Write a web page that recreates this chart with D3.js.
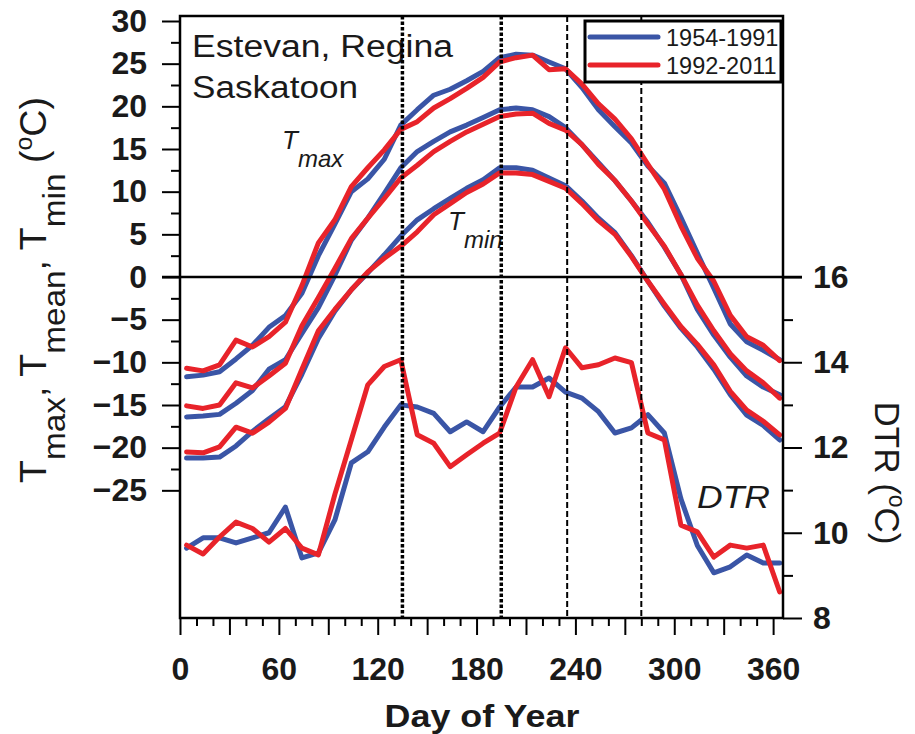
<!DOCTYPE html>
<html><head><meta charset="utf-8">
<script src="https://cdn.jsdelivr.net/npm/d3@7"></script>
<style>body{margin:0;background:#fff;} svg{display:block;}</style>
</head><body>
<svg id="c" width="915" height="734"></svg>
<script>
// ---- data ----
const days = [4,14,24,34,44,54,64,74,84,94,104,114,124,134,144,154,164,174,184,194,204,214,224,234,244,254,264,274,284,294,304,314,324,334,344,354,364];
const tmaxOld = [-11.7,-11.5,-11.1,-9.6,-8.0,-5.9,-4.5,-1.9,2.5,6.2,10.0,11.5,13.8,17.8,19.6,21.3,22.0,23.0,24.1,25.7,26.1,26.0,25.2,24.4,22.2,19.6,17.6,15.7,13.0,11.0,7.0,2.8,-1.3,-5.5,-7.6,-8.6,-9.7];
const tmaxNew = [-10.7,-11.0,-10.3,-7.4,-8.2,-7.0,-5.3,-1.0,4.0,6.7,10.6,12.8,14.9,17.3,18.2,19.8,20.9,22.1,23.4,25.2,25.7,26.0,24.3,24.4,22.6,20.3,18.5,16.2,13.2,10.3,6.0,2.2,-0.5,-4.5,-7.0,-8.0,-9.8];
const tmeanOld = [-16.4,-16.3,-16.1,-14.8,-13.3,-10.8,-9.7,-6.6,-3.6,0.2,4.3,6.9,9.8,12.8,14.7,15.9,17.0,17.8,18.7,19.6,19.8,19.6,18.8,17.5,15.5,13.4,11.3,8.9,6.4,3.5,0.3,-3.8,-6.8,-9.4,-11.6,-12.9,-13.8];
const tmeanNew = [-15.1,-15.4,-15.0,-12.4,-13.0,-11.6,-10.1,-5.7,-2.4,1.0,4.5,6.9,9.2,11.6,13.1,14.7,15.9,17.0,17.9,18.8,19.1,19.2,18.0,17.2,15.5,13.2,11.3,8.9,6.2,3.6,0.3,-3.3,-6.3,-9.0,-11.0,-12.4,-14.2];
const tminOld = [-21.2,-21.2,-21.1,-19.8,-18.1,-16.6,-15.2,-11.4,-7.2,-4.0,-1.5,0.5,2.6,4.8,6.7,8.0,9.2,10.4,11.4,12.8,12.8,12.5,11.6,10.7,8.9,6.9,5.2,2.5,-0.5,-3.4,-6.0,-8.2,-10.8,-13.8,-16.2,-17.4,-19.1];
const tminNew = [-20.5,-20.6,-19.9,-17.6,-18.3,-17.0,-15.4,-10.8,-6.3,-3.8,-1.5,0.6,2.2,3.6,5.3,7.3,8.6,9.9,10.9,12.2,12.2,12.0,11.2,10.4,8.6,6.6,5.0,2.4,-0.5,-3.2,-5.8,-7.9,-10.3,-13.4,-15.6,-16.9,-18.5];
const dtrOld = [9.64,9.88,9.88,9.76,9.88,10.0,10.6,9.41,9.53,10.3,11.64,11.9,12.48,13.0,12.95,12.8,12.37,12.6,12.37,12.95,13.42,13.42,13.63,13.3,13.16,12.84,12.34,12.46,12.77,12.34,10.8,9.7,9.06,9.2,9.48,9.29,9.29];
const dtrNew = [9.71,9.5,9.9,10.25,10.1,9.78,10.1,9.64,9.48,10.9,12.18,13.47,13.9,14.06,12.3,12.1,11.55,11.83,12.1,12.34,13.42,14.06,13.19,14.34,13.87,13.94,14.1,13.99,12.34,12.18,10.18,10.02,9.43,9.71,9.64,9.71,8.61];
const seriesNames = ["1954-1991","1992-2011"];
const markerDays = [135,195,235,280];
const xTickLabels = [0,60,120,180,240,300,360];
const leftTickLabels = [-25,-20,-15,-10,-5,0,5,10,15,20,25,30];
const rightTickLabels = [8,10,12,14,16];

// ---- layout ----
const svg = d3.select("#c");
const FONT = "'Liberation Sans', Arial, Helvetica, sans-serif";
const L = 180, R = 783, T = 16, B = 618;
const BLUE = "#3a55a6", RED = "#e8232a";
const x = d3.scaleLinear().domain([0,366]).range([L,R]);
const yL = d3.scaleLinear().domain([0,30]).range([277,21]);
const yR = d3.scaleLinear().domain([8,16]).range([B,277]);

// annotation texts
const ann = svg.append("g").attr("font-family", FONT).attr("fill","#1a1a1a");
ann.append("text").attr("x",192).attr("y",57).attr("font-size",31)
  .attr("textLength",261).attr("lengthAdjust","spacingAndGlyphs").text("Estevan, Regina");
ann.append("text").attr("x",192).attr("y",98).attr("font-size",31)
  .attr("textLength",166).attr("lengthAdjust","spacingAndGlyphs").text("Saskatoon");
function subLabel(xp, yp, main, sub){
  const t = ann.append("text").attr("x",xp).attr("y",yp).attr("font-style","italic").attr("font-size",26);
  t.append("tspan").text(main);
  t.append("tspan").attr("dy",18).attr("font-size",24).text(sub);
}
subLabel(282,149,"T","max");
subLabel(448,230,"T","min");
ann.append("text").attr("x",697).attr("y",508).attr("font-size",32).attr("font-style","italic")
  .attr("textLength",73).attr("lengthAdjust","spacingAndGlyphs").text("DTR");

// curves
const lineL = d3.line().x((d,i)=>x(days[i])).y(d=>yL(d));
const lineR = d3.line().x((d,i)=>x(days[i])).y(d=>yR(d));
const curves = svg.append("g").attr("fill","none").attr("stroke-width",5).attr("stroke-linejoin","round").attr("stroke-linecap","round");
[[tmaxOld,BLUE],[tmeanOld,BLUE],[tminOld,BLUE]].forEach(([s,c])=>curves.append("path").attr("d",lineL(s)).attr("stroke",c));
curves.append("path").attr("d",lineR(dtrOld)).attr("stroke",BLUE);
[[tmaxNew,RED],[tmeanNew,RED],[tminNew,RED]].forEach(([s,c])=>curves.append("path").attr("d",lineL(s)).attr("stroke",c));
curves.append("path").attr("d",lineR(dtrNew)).attr("stroke",RED);

// marker vertical lines
svg.append("g").selectAll("line").data(markerDays).join("line")
  .attr("x1",d=>x(d)).attr("x2",d=>x(d)).attr("y1",T).attr("y2",B)
  .attr("stroke","#000")
  .attr("stroke-width",(d,i)=>i<2?3.5:2)
  .attr("stroke-dasharray",(d,i)=>i<2?"3.5,2":"6,3");

// axes
function styleAxis(g){
  g.select(".domain").remove();
  g.selectAll("line").attr("stroke","#000").attr("stroke-width",2);
  g.selectAll("text").attr("font-family",FONT).attr("font-weight","bold").attr("font-size",32).attr("fill","#1a1a1a");
}
const leftMinor = d3.range(-22.5,30,5);
svg.append("g").attr("transform",`translate(${L},0)`)
  .call(d3.axisLeft(yL).tickValues(leftTickLabels).tickSize(18).tickPadding(15)).call(styleAxis);
svg.append("g").attr("transform",`translate(${L},0)`)
  .call(d3.axisLeft(yL).tickValues(leftMinor).tickSize(9).tickFormat("")).call(styleAxis);

svg.append("g").attr("transform",`translate(${R},0)`)
  .call(d3.axisRight(yR).tickValues(rightTickLabels).tickSize(19).tickPadding(11)).call(styleAxis);
svg.append("g").attr("transform",`translate(${R},0)`)
  .call(d3.axisRight(yR).tickValues([9,11,13,15]).tickSize(10).tickFormat("")).call(styleAxis);

const xMajor = d3.range(0,361,30);
const xMinor = d3.range(0,366,10).filter(d=>d%30!==0);
svg.append("g").attr("transform",`translate(0,${B})`)
  .call(d3.axisBottom(x).tickValues(xMajor).tickSize(17).tickPadding(22)
     .tickFormat(d=>xTickLabels.includes(d)?String(d):"")).call(styleAxis);
svg.append("g").attr("transform",`translate(0,${B})`)
  .call(d3.axisBottom(x).tickValues(xMinor).tickSize(8).tickFormat("")).call(styleAxis);

// frame
svg.append("rect").attr("x",L).attr("y",T).attr("width",R-L).attr("height",B-T)
  .attr("fill","none").attr("stroke","#000").attr("stroke-width",2.5);
// zero line
svg.append("line").attr("x1",162).attr("x2",802).attr("y1",yL(0)).attr("y2",yL(0))
  .attr("stroke","#000").attr("stroke-width",2.5);

// axis titles
svg.append("text").attr("x",482).attr("y",727).attr("text-anchor","middle")
  .attr("font-family",FONT).attr("font-weight","bold").attr("font-size",32).attr("fill","#1a1a1a")
  .attr("textLength",195).attr("lengthAdjust","spacingAndGlyphs").text("Day of Year");

const yt = svg.append("text").attr("transform","translate(46,290) rotate(-90)").attr("text-anchor","middle")
  .attr("font-family",FONT).attr("font-size",36).attr("fill","#1a1a1a")
  .attr("textLength",386).attr("lengthAdjust","spacingAndGlyphs");
yt.append("tspan").text("T");
yt.append("tspan").attr("dy",19).attr("font-size",32).text("max");
yt.append("tspan").attr("dy",-19).text(", T");
yt.append("tspan").attr("dy",19).attr("font-size",32).text("mean");
yt.append("tspan").attr("dy",-19).text(", T");
yt.append("tspan").attr("dy",19).attr("font-size",32).text("min");
yt.append("tspan").attr("dy",-19).text(" (");
yt.append("tspan").attr("dy",-14).attr("font-size",24).text("o");
yt.append("tspan").attr("dy",14).text("C)");

const rt = svg.append("text").attr("transform","translate(875,473) rotate(90)").attr("text-anchor","middle")
  .attr("font-family",FONT).attr("font-size",35).attr("fill","#1a1a1a");
rt.append("tspan").text("DTR (");
rt.append("tspan").attr("dy",-14).attr("font-size",23).text("o");
rt.append("tspan").attr("dy",14).text("C)");

// legend
const lg = svg.append("g");
lg.append("rect").attr("x",585).attr("y",21).attr("width",196).attr("height",61)
  .attr("fill","#fff").attr("stroke","#000").attr("stroke-width",3);
[BLUE,RED].forEach((c,i)=>{
  lg.append("line").attr("x1",590).attr("x2",658).attr("y1",37+28*i).attr("y2",37+28*i)
    .attr("stroke",c).attr("stroke-width",5).attr("stroke-linecap","round");
  lg.append("text").attr("x",666).attr("y",46+28*i).attr("font-family",FONT).attr("font-size",23.5)
    .attr("fill","#1a1a1a").text(seriesNames[i]);
});
</script>
</body></html>
